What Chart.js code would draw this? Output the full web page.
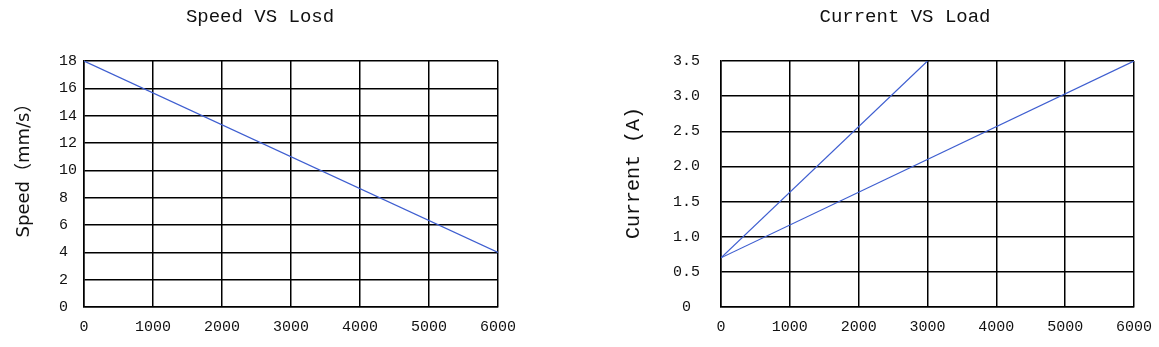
<!DOCTYPE html>
<html>
<head>
<meta charset="utf-8">
<script src="https://cdn.jsdelivr.net/npm/chart.js@4/dist/chart.umd.min.js"></script>
<style>
    html, body { margin: 0; padding: 0; background: #fff; overflow: hidden; }
    body { position: relative; width: 1159px; height: 347px; }
    canvas { position: absolute; top: 0; }
    #speedChart { left: 0; }
    #currentChart { left: 580px; }
</style>
</head>
<body>
<canvas id="speedChart" width="580" height="347"></canvas>
<!-- a bit wider than the window: chart.js reserves room for the last x label -->
<canvas id="currentChart" width="583" height="347"></canvas>
<script>
// Chart data
const loadTicks = [0, 1000, 2000, 3000, 4000, 5000, 6000];
const loadTickLabels = ['0', '1000', '2000', '3000', '4000', '5000', '6000'];

const speedLoads = [0, 6000];
const speedValues = [18, 4];
const speedTickLabels = ['0', '2', '4', '6', '8', '10', '12', '14', '16', '18'];

const currentLoadsFast = [0, 3000];
const currentValuesFast = [0.7, 3.5];
const currentLoadsSlow = [0, 6000];
const currentValuesSlow = [0.7, 3.5];
const currentTickLabels = ['0', '0.5', '1.0', '1.5', '2.0', '2.5', '3.0', '3.5'];

const LINE_BLUE = 'rgb(62, 94, 208)';
const MONO = "'Liberation Mono', 'DejaVu Sans Mono', monospace";

function toPoints(xs, ys) {
    return xs.map(function (x, i) { return { x: x, y: ys[i] }; });
}

// heading and y title sit at fixed spots in the original (not centred), so draw them here
const plotTitle = {
    id: 'plotTitle',
    afterDraw: function (chart, args, opts) {
        const ctx = chart.ctx;
        ctx.save();
        ctx.fillStyle = '#111';
        ctx.textAlign = 'center';
        ctx.textBaseline = 'middle';
        ctx.font = '19px ' + MONO;
        ctx.fillText(opts.text, opts.x, opts.y);

        const ax = opts.axis;
        ctx.translate(ax.x, ax.y);
        ctx.rotate(-Math.PI / 2);
        ctx.font = ax.font;
        ctx.fillText(ax.text, 0, 0);
        ctx.restore();
    }
};

function lineSet(points) {
    return {
        data: points,
        showLine: true,
        borderColor: LINE_BLUE,
        backgroundColor: LINE_BLUE,
        borderWidth: 1.2,
        pointRadius: 0,
        pointHoverRadius: 0
    };
}

const gridStyle = { color: '#000', lineWidth: 1.5, drawTicks: false };
const borderStyle = { color: '#000', width: 1.5 };

function xScale() {
    return {
        type: 'linear',
        min: 0,
        max: 6000,
        afterFit: function (s) { s.height = 40; },
        afterBuildTicks: function (s) { s.ticks = loadTicks.map(function (v) { return { value: v }; }); },
        grid: gridStyle,
        border: borderStyle,
        ticks: {
            color: '#111',
            padding: 11,
            maxRotation: 0,
            font: { family: MONO, size: 15 },
            callback: function (value, index) { return loadTickLabels[index]; }
        }
    };
}

Chart.defaults.animation = false;
Chart.defaults.devicePixelRatio = 1;

new Chart(document.getElementById('speedChart'), {
    type: 'scatter',
    data: { datasets: [lineSet(toPoints(speedLoads, speedValues))] },
    options: {
        responsive: false,
        layout: { padding: { top: 61, right: 82, bottom: 0, left: 0 } },
        plugins: {
            legend: { display: false },
            tooltip: { enabled: false },
            plotTitle: {
                text: 'Speed VS Losd', x: 260, y: 17,
                axis: { text: 'Speed（mm/s）', x: 24, y: 166, font: "18px 'DejaVu Sans', 'Noto Sans CJK SC', sans-serif" }
            }
        },
        scales: {
            x: xScale(),
            y: {
                type: 'linear',
                min: 0,
                max: 18,
                afterFit: function (s) { s.width = 84; },
                grid: gridStyle,
                border: borderStyle,
                ticks: {
                    stepSize: 2,
                    color: '#111',
                    padding: 7,
                    font: { family: MONO, size: 15 },
                    // pad to two characters so single digits sit left like the original
                    callback: function (value, index) { return speedTickLabels[index].padEnd(2, ' '); }
                }
            }
        }
    },
    plugins: [plotTitle]
});

new Chart(document.getElementById('currentChart'), {
    type: 'scatter',
    data: {
        datasets: [
            lineSet(toPoints(currentLoadsFast, currentValuesFast)),
            lineSet(toPoints(currentLoadsSlow, currentValuesSlow))
        ]
    },
    options: {
        responsive: false,
        layout: { padding: { top: 61, right: 0, bottom: 0, left: 0 } },
        plugins: {
            legend: { display: false },
            tooltip: { enabled: false },
            plotTitle: {
                text: 'Current VS Load', x: 325, y: 17,
                axis: { text: 'Current (A)', x: 54, y: 173, font: '20px ' + MONO }
            }
        },
        scales: {
            x: xScale(),
            y: {
                type: 'linear',
                min: 0,
                max: 3.5,
                afterFit: function (s) { s.width = 141; },
                grid: gridStyle,
                border: borderStyle,
                ticks: {
                    stepSize: 0.5,
                    color: '#111',
                    padding: 21,
                    crossAlign: 'center',
                    font: { family: MONO, size: 15 },
                    callback: function (value, index) { return currentTickLabels[index]; }
                }
            }
        }
    },
    plugins: [plotTitle]
});
</script>
</body>
</html>
